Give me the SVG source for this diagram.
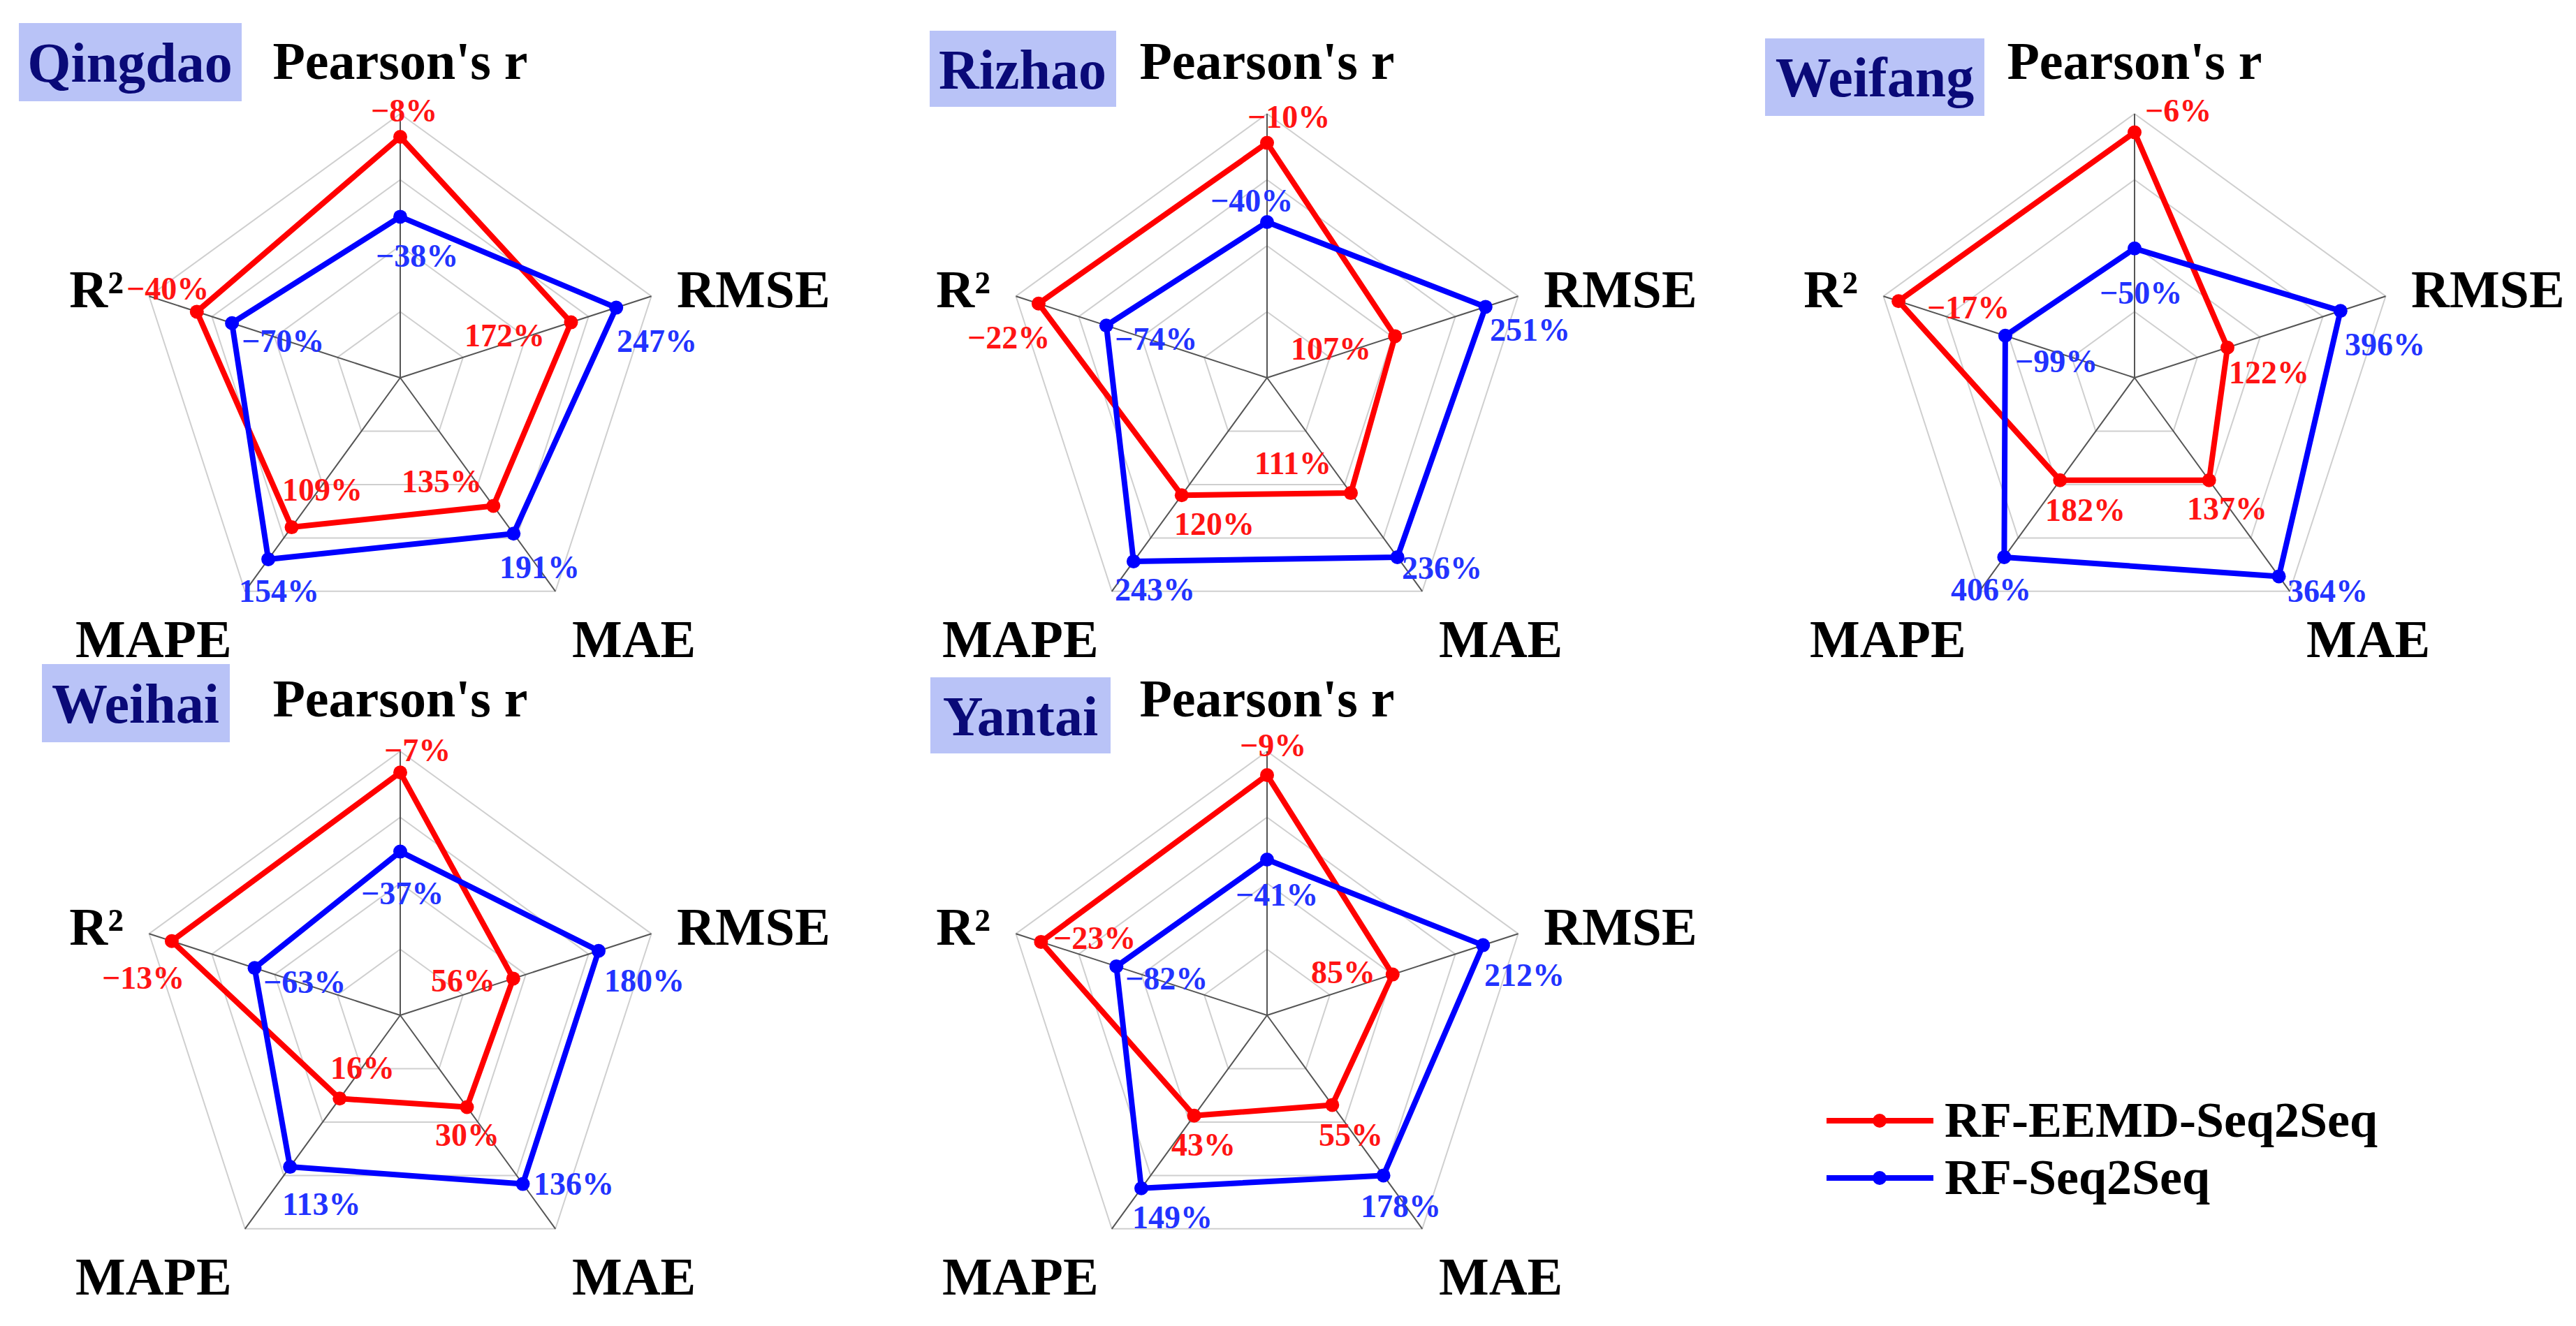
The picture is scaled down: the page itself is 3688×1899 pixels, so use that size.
<svg xmlns="http://www.w3.org/2000/svg" xmlns:xlink="http://www.w3.org/1999/xlink" width="3688" height="1899" viewBox="0 0 3688 1899">
<style>
text{font-family:"Liberation Serif","Times New Roman",serif;font-weight:bold}
.ax{font-size:76px;fill:#000}
.city{font-size:80px;fill:#0a0a78;text-anchor:middle}
.box{fill:#b9c3f7}
.vr{font-size:46px;fill:#ff1414}
.vb{font-size:46px;fill:#2233ff}
.ring{fill:none;stroke:#cfcfcf;stroke-width:2}
.spoke{stroke:#555;stroke-width:2}
.red{fill:none;stroke:#ff0000;stroke-width:8;stroke-linejoin:round;marker-start:url(#mr);marker-mid:url(#mr)}
.blue{fill:none;stroke:#0000ff;stroke-width:8;stroke-linejoin:round;marker-start:url(#mb);marker-mid:url(#mb)}
.leg{font-size:72px;fill:#000}
</style>
<defs>
<marker id="mr" markerUnits="userSpaceOnUse" markerWidth="24" markerHeight="24" refX="12" refY="12" overflow="visible"><circle cx="12" cy="12" r="10" fill="#ff0000"/></marker>
<marker id="mb" markerUnits="userSpaceOnUse" markerWidth="24" markerHeight="24" refX="12" refY="12" overflow="visible"><circle cx="12" cy="12" r="10" fill="#0000ff"/></marker>
<g id="grid">
<polygon class="ring" points="0,-94.5 89.9,-29.2 55.5,76.5 -55.5,76.5 -89.9,-29.2"/>
<polygon class="ring" points="0,-189 179.8,-58.4 111.1,152.9 -111.1,152.9 -179.8,-58.4"/>
<polygon class="ring" points="0,-283.5 269.6,-87.6 166.6,229.4 -166.6,229.4 -269.6,-87.6"/>
<polygon class="ring" points="0,-378 359.5,-116.8 222.2,305.8 -222.2,305.8 -359.5,-116.8"/>
<path class="spoke" d="M0,0L0,-378M0,0L359.5,-116.8M0,0L222.2,305.8M0,0L-222.2,305.8M0,0L-359.5,-116.8"/>
</g>
<g id="axl">
<text class="ax" x="0" y="-428" text-anchor="middle">Pearson's r</text>
<text class="ax" x="396" y="-101">RMSE</text>
<text class="ax" x="-396" y="-101" text-anchor="end">R²</text>
<text class="ax" x="-465" y="400">MAPE</text>
<text class="ax" x="246" y="400">MAE</text>
</g>
</defs>

<g id="qingdao">
<rect class="box" x="27" y="33" width="319" height="112"/>
<text class="city" x="186" y="117">Qingdao</text>
<g transform="translate(573,541)">
<use xlink:href="#grid"/><use xlink:href="#axl"/>
<polygon class="red" points="0,-345 244.5,-79.4 133.3,183.5 -155.5,214.1 -291.2,-94.6"/>
<polygon class="blue" points="0,-230.6 309.2,-100.4 162.2,223.2 -188.9,259.9 -240.9,-78.3"/>
</g>
<text class="vr" x="531" y="174">−8%</text>
<text class="vb" x="538" y="382">−38%</text>
<text class="vr" x="181" y="429">−40%</text>
<text class="vb" x="346" y="504">−70%</text>
<text class="vr" x="665" y="496">172%</text>
<text class="vb" x="883" y="504">247%</text>
<text class="vr" x="575" y="705">135%</text>
<text class="vb" x="715" y="828">191%</text>
<text class="vr" x="404" y="717">109%</text>
<text class="vb" x="342" y="862">154%</text>
</g>

<g id="rizhao">
<rect class="box" x="1331" y="44" width="267" height="109"/>
<text class="city" x="1464" y="127">Rizhao</text>
<g transform="translate(1814,541)">
<use xlink:href="#grid"/><use xlink:href="#axl"/>
<polygon class="red" points="0,-336.4 183.3,-59.6 120,165.1 -122.2,168.2 -327.1,-106.3"/>
<polygon class="blue" points="0,-223 312.8,-101.6 186.6,256.9 -191.1,263 -230.1,-74.8"/>
</g>
<text class="vr" x="1786" y="183">−10%</text>
<text class="vb" x="1733" y="303">−40%</text>
<text class="vr" x="1385" y="499">−22%</text>
<text class="vb" x="1596" y="501">−74%</text>
<text class="vr" x="1848" y="515">107%</text>
<text class="vb" x="2133" y="488">251%</text>
<text class="vr" x="1796" y="679">111%</text>
<text class="vb" x="2007" y="829">236%</text>
<text class="vr" x="1681" y="766">120%</text>
<text class="vb" x="1596" y="860">243%</text>
</g>

<g id="weifang">
<rect class="box" x="2527" y="55" width="314" height="111"/>
<text class="city" x="2684" y="138">Weifang</text>
<g transform="translate(3056,541)">
<use xlink:href="#grid"/><use xlink:href="#axl"/>
<polygon class="red" points="0,-351.5 133,-43.2 106.7,146.8 -106.7,146.8 -337.9,-109.8"/>
<polygon class="blue" points="0,-185.2 294.8,-95.8 206.6,284.4 -186.6,256.9 -185.1,-60.2"/>
</g>
<text class="vr" x="3071" y="174">−6%</text>
<text class="vb" x="3006" y="435">−50%</text>
<text class="vr" x="2759" y="456">−17%</text>
<text class="vb" x="2885" y="533">−99%</text>
<text class="vr" x="3191" y="549">122%</text>
<text class="vb" x="3357" y="509">396%</text>
<text class="vr" x="3131" y="744">137%</text>
<text class="vb" x="3275" y="862">364%</text>
<text class="vr" x="2928" y="746">182%</text>
<text class="vb" x="2793" y="860">406%</text>
</g>

<g id="weihai">
<rect class="box" x="60" y="951" width="269" height="112"/>
<text class="city" x="194" y="1035">Weihai</text>
<g transform="translate(573,1454)">
<use xlink:href="#grid"/><use xlink:href="#axl"/>
<polygon class="red" points="0,-347.8 161.8,-52.6 95.5,131.5 -86.7,119.3 -327.1,-106.3"/>
<polygon class="blue" points="0,-234.4 284,-92.3 175.5,241.6 -157.8,217.1 -208.5,-67.7"/>
</g>
<text class="vr" x="550" y="1090">−7%</text>
<text class="vb" x="517" y="1295">−37%</text>
<text class="vr" x="146" y="1416">−13%</text>
<text class="vb" x="377" y="1422">−63%</text>
<text class="vr" x="617" y="1420">56%</text>
<text class="vb" x="865" y="1420">180%</text>
<text class="vr" x="473" y="1545">16%</text>
<text class="vr" x="623" y="1641">30%</text>
<text class="vb" x="764" y="1711">136%</text>
<text class="vb" x="404" y="1740">113%</text>
</g>

<g id="yantai">
<rect class="box" x="1332" y="970" width="258" height="109"/>
<text class="city" x="1461" y="1053">Yantai</text>
<g transform="translate(1814,1454)">
<use xlink:href="#grid"/><use xlink:href="#axl"/>
<polygon class="red" points="0,-344 179.8,-58.4 93.3,128.4 -104.4,143.7 -323.6,-105.1"/>
<polygon class="blue" points="0,-223 309.2,-100.4 166.6,229.4 -180,247.7 -215.7,-70.1"/>
</g>
<text class="vr" x="1775" y="1083">−9%</text>
<text class="vb" x="1769" y="1297">−41%</text>
<text class="vr" x="1508" y="1359">−23%</text>
<text class="vb" x="1611" y="1417">−82%</text>
<text class="vr" x="1877" y="1408">85%</text>
<text class="vb" x="2125" y="1412">212%</text>
<text class="vr" x="1888" y="1641">55%</text>
<text class="vb" x="1948" y="1743">178%</text>
<text class="vr" x="1677" y="1655">43%</text>
<text class="vb" x="1621" y="1759">149%</text>
</g>

<g id="legend">
<line x1="2615" y1="1605" x2="2768" y2="1605" stroke="#ff0000" stroke-width="8"/>
<circle cx="2691" cy="1605" r="10" fill="#ff0000"/>
<text class="leg" x="2784" y="1628">RF-EEMD-Seq2Seq</text>
<line x1="2615" y1="1687" x2="2768" y2="1687" stroke="#0000ff" stroke-width="8"/>
<circle cx="2691" cy="1687" r="10" fill="#0000ff"/>
<text class="leg" x="2784" y="1710">RF-Seq2Seq</text>
</g>
</svg>
